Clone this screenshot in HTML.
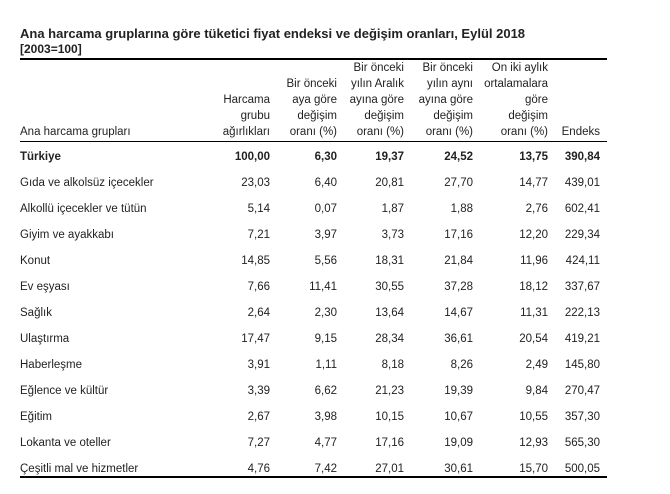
<!DOCTYPE html>
<html><head><meta charset="utf-8"><style>
body{margin:0;width:670px;height:494px;background:#fff;font-family:"Liberation Sans",Arial,sans-serif;color:#222;position:relative;overflow:hidden}
.t{position:absolute;font-size:11.5px;white-space:nowrap;line-height:14px}
.r{text-align:right}
.b{font-weight:bold}
.line{position:absolute;left:20px;width:587px;background:#000}
</style></head><body>
<div class="t b" style="left:20px;top:27px;font-size:13px">Ana harcama gruplarına göre tüketici fiyat endeksi ve değişim oranları, Eylül 2018</div>
<div class="t b" style="left:20px;top:42px;font-size:12px">[2003=100]</div>
<div class="line" style="top:58px;height:2px"></div>
<div class="line" style="top:141px;height:1px"></div>
<div class="line" style="top:476px;height:2px"></div>
<div id="h"></div>
<script>
var cols=[270,337,404,473,548,600];
var hdr=[
["","","Harcama","grubu","ağırlıkları"],
["","Bir önceki","aya göre","değişim","oranı (%)"],
["Bir önceki","yılın Aralık","ayına göre","değişim","oranı (%)"],
["Bir önceki","yılın aynı","ayına göre","değişim","oranı (%)"],
["On iki aylık","ortalamalara","göre","değişim","oranı (%)"],
["","","","","Endeks"]];
var ys=[61,77,93,109,125];
var out="";
hdr.forEach(function(h,i){
 h.forEach(function(s,j){if(s)out+='<div class="t r" style="right:'+(670-cols[i])+'px;top:'+ys[j]+'px">'+s+'</div>';});
});
out+='<div class="t" style="left:20px;top:125px">Ana harcama grupları</div>';
var rows=[
["Türkiye","100,00","6,30","19,37","24,52","13,75","390,84"],
["Gıda ve alkolsüz içecekler","23,03","6,40","20,81","27,70","14,77","439,01"],
["Alkollü içecekler ve tütün","5,14","0,07","1,87","1,88","2,76","602,41"],
["Giyim ve ayakkabı","7,21","3,97","3,73","17,16","12,20","229,34"],
["Konut","14,85","5,56","18,31","21,84","11,96","424,11"],
["Ev eşyası","7,66","11,41","30,55","37,28","18,12","337,67"],
["Sağlık","2,64","2,30","13,64","14,67","11,31","222,13"],
["Ulaştırma","17,47","9,15","28,34","36,61","20,54","419,21"],
["Haberleşme","3,91","1,11","8,18","8,26","2,49","145,80"],
["Eğlence ve kültür","3,39","6,62","21,23","19,39","9,84","270,47"],
["Eğitim","2,67","3,98","10,15","10,67","10,55","357,30"],
["Lokanta ve oteller","7,27","4,77","17,16","19,09","12,93","565,30"],
["Çeşitli mal ve hizmetler","4,76","7,42","27,01","30,61","15,70","500,05"]];
rows.forEach(function(r,i){
 var y=(i==0?157:183+(i-1)*26)-7;
 var c=i==0?" b":"";
 out+='<div class="t'+c+'" style="left:20px;top:'+y+'px">'+r[0]+'</div>';
 for(var k=1;k<7;k++)out+='<div class="t r'+c+'" style="right:'+(670-cols[k-1])+'px;top:'+y+'px">'+r[k]+'</div>';
});
document.getElementById("h").innerHTML=out;
</script>
</body></html>
